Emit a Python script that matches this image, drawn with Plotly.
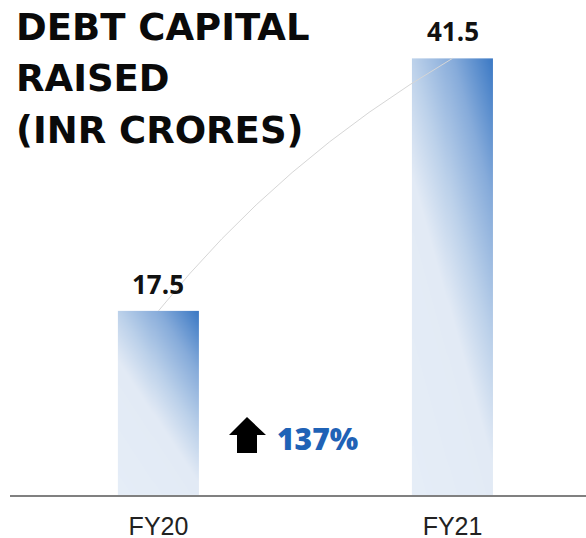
import numpy as np
import plotly.graph_objects as go

# ---- data ----
categories = ["FY20", "FY21"]
values = [17.5, 41.5]
value_labels = ["17.5", "41.5"]
growth_label = "137%"
title_lines = ["DEBT CAPITAL", "RAISED", "(INR CRORES)"]

W, H = 586, 538
ML, MR, MT, MB = 10, 0, 0, 43
PW, PH = W - ML - MR, H - MT - MB
BAR_W = 0.276
XR = [-0.505, 1.454]
YR = [0, 47.05]

def px(x, y):
    """pixel -> paper coords (decorations only)"""
    return (x - ML) / PW, (H - MB - y) / PH

fig = go.Figure()
xs = list(range(len(categories)))

# gradient fill for each bar (diagonal linear gradient in bar bbox)
nu, nv = 40, 120
scale = [[0.0, "#e5edf7"], [0.44, "#e2eaf5"], [0.6, "#bcd1ea"], [0.8, "#86abda"], [1.0, "#3a78c4"]]
for xi, v in zip(xs, values):
    xe = np.linspace(xi - BAR_W / 2, xi + BAR_W / 2, nu + 1)
    ye = np.linspace(0, v, nv + 1)
    uc = (np.arange(nu) + 0.5) / nu
    vc = (np.arange(nv) + 0.5) / nv
    U, V = np.meshgrid(uc, vc)
    Z = 0.4 * U + 0.6 * V
    fig.add_trace(go.Heatmap(x=xe, y=ye, z=Z, zmin=0, zmax=1, colorscale=scale, showscale=False,
                             hoverinfo="skip", zsmooth="best"))

# bars (transparent, drawn over the gradient)
fig.add_trace(go.Bar(x=xs, y=values, width=BAR_W, marker=dict(color="rgba(0,0,0,0)", line=dict(width=0)),
                     hoverinfo="skip", showlegend=False))

# connector curve between bar tops
cx, cy = 0.409, 31.8
fig.add_shape(type="path", xref="x", yref="y",
              path=f"M {xs[0]},{values[0]} Q {cx},{cy} {xs[1]},{values[1]}",
              line=dict(color="#d6d6d6", width=1), layer="above")

# value labels
for xi, v, lab in zip(xs, values, value_labels):
    fig.add_annotation(x=xi, y=v, text=lab, showarrow=False, yanchor="bottom", yshift=7,
                       font=dict(family="Open Sans", size=26, color="#111111", weight=700))

# title (one annotation per line for wider line spacing)
for i, line in enumerate(title_lines):
    tx, ty = px(14, 4 + 51.5 * i)
    fig.add_annotation(xref="paper", yref="paper", x=tx, y=ty, xanchor="left", yanchor="top",
                       text=line, showarrow=False, align="left",
                       font=dict(family="DejaVu Sans", size=37, color="#0a0a0a", weight="bold"))

# growth arrow + label
pts = [(247, 417), (266, 435), (257, 435), (257, 453), (237, 453), (237, 435), (229, 435)]
pp = [px(a, b) for a, b in pts]
path = "M " + " L ".join(f"{a:.5f},{b:.5f}" for a, b in pp) + " Z"
fig.add_shape(type="path", xref="paper", yref="paper", path=path,
              fillcolor="#000000", line=dict(width=0), layer="above")
gx, gy = px(275, 439)
fig.add_annotation(xref="paper", yref="paper", x=gx, y=gy, xanchor="left", yanchor="middle",
                   text=growth_label, showarrow=False,
                   font=dict(family="Open Sans", size=30, color="#1f62b6", weight=800))

fig.update_layout(
    width=W, height=H, margin=dict(l=ML, r=MR, t=MT, b=MB, autoexpand=False),
    paper_bgcolor="white", plot_bgcolor="white", showlegend=False, bargap=0,
    xaxis=dict(type="linear", range=XR, tickvals=xs, ticktext=categories, showgrid=False,
               zeroline=False, showline=True, linecolor="#808080", linewidth=2, ticks="",
               ticklabelstandoff=8, tickfont=dict(family="Liberation Sans", size=25, color="#222222"),
               fixedrange=True),
    yaxis=dict(range=YR, visible=False, showgrid=False, zeroline=False, fixedrange=True),
)

fig.write_html("out.html", config={"displayModeBar": False},
               post_script="document.body.style.margin='0';document.body.style.overflow='hidden';")
